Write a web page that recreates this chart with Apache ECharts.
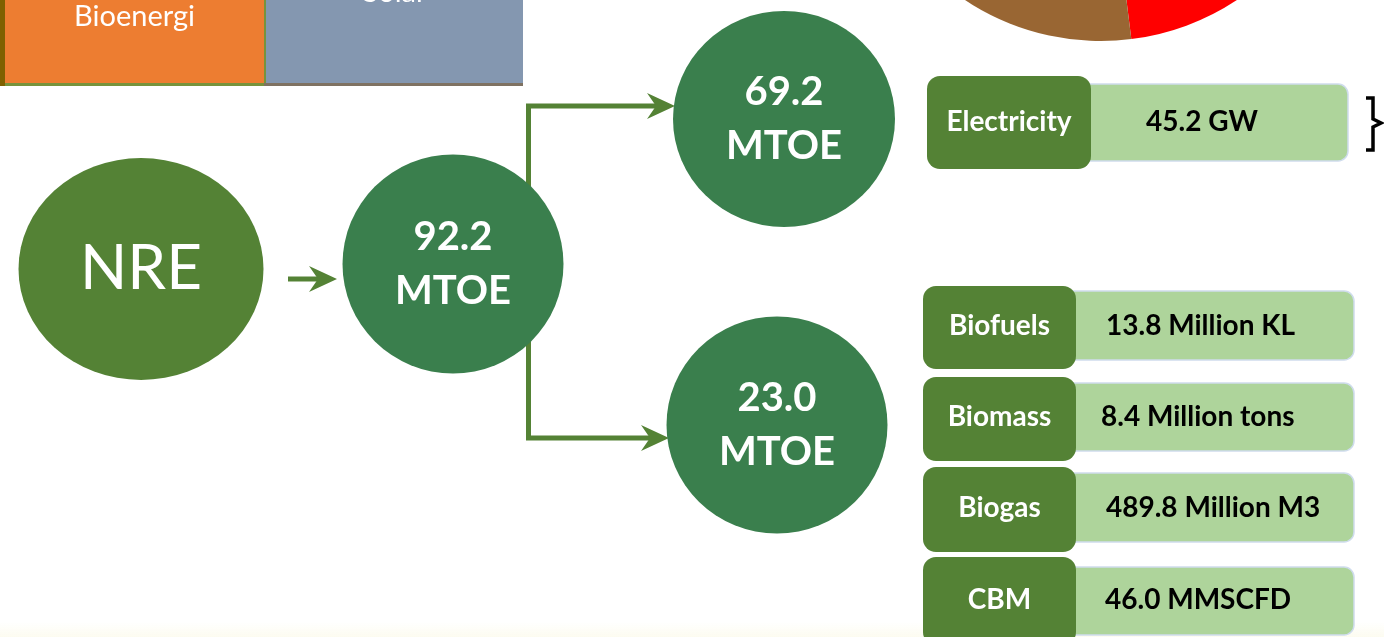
<!DOCTYPE html>
<html>
<head>
<meta charset="utf-8">
<style>
  html, body { margin: 0; padding: 0; background: #fff; }
  #main { width: 1384px; height: 637px; }
</style>
<script src="https://cdn.jsdelivr.net/npm/echarts@6/dist/echarts.min.js"></script>
</head>
<body>
<div id="main"></div>
<script>
// energy mix strip (top left) and pie (top right), both cut by the slide crop
const mixCategories = ['Bioenergi', 'Solar'];
const pieCategories = ['Segment 1', 'Segment 2', 'Segment 3', 'Segment 4'];
const pieValues = [14.7, 21.4, 34.5, 29.4];

// flow nodes
const nodeLabels = ['NRE', '92.2', '69.2', '23.0'];
const nodeUnit = 'MTOE';

// outputs
const electricCategories = ['Electricity'];
const electricValues = ['45.2 GW'];
const fuelCategories = ['Biofuels', 'Biomass', 'Biogas', 'CBM'];
const fuelValues = ['13.8 Million KL', '8.4 Million tons', '489.8 Million M3', '46.0 MMSCFD'];

// layout (pixel space of the slide)
const mixLayout = [
  {x0: 5, x1: 264, fill: '#ed7d31', edge: '#77933c', textY: 17},
  {x0: 266, x1: 523, fill: '#8497b0', edge: '#7f7262', textY: -7}
];
const nodeLayout = [
  {x: 141, y: 269, w: 245, h: 222, color: '#548235'},
  {x: 453, y: 264, w: 221, h: 219, color: '#3a7f4d'},
  {x: 784, y: 119, w: 222, h: 216, color: '#3a7f4d'},
  {x: 777, y: 425, w: 221, h: 217, color: '#3a7f4d'}
];
const rowLayout = [
  {dark: [927, 76, 1091, 169], light: [1070, 84, 1348, 161], textY: 122, valueX: 1202, align: 'center'},
  {dark: [923, 286, 1076, 369], light: [1060, 291, 1354, 360], textY: 326, valueX: 1106, align: 'left'},
  {dark: [923, 377, 1076, 461], light: [1060, 383, 1354, 451], textY: 417, valueX: 1101, align: 'left'},
  {dark: [923, 467, 1076, 552], light: [1060, 473, 1354, 542], textY: 508, valueX: 1106, align: 'left'},
  {dark: [923, 557, 1076, 645], light: [1060, 567, 1354, 635], textY: 600, valueX: 1105, align: 'left'}
];
const connectors = [
  {points: [[288, 279], [320, 279]], tip: [337, 279]},
  {points: [[528.5, 200], [528.5, 106], [657, 106]], tip: [675, 106]},
  {points: [[528.5, 330], [528.5, 438], [651, 438]], tip: [669, 438]}
];
const bracket = [[1366, 98], [1373, 98], [1373, 119], [1381, 123], [1373, 127], [1373, 150], [1366, 150]];

const FONT = 'Lato, "Open Sans", sans-serif';
const chart = echarts.init(document.getElementById('main'));

const rows = electricCategories.map((c, i) => ({cat: c, val: electricValues[i]}))
  .concat(fuelCategories.map((c, i) => ({cat: c, val: fuelValues[i]})));

function box(api, r, fill, radius, stroke) {
  const p0 = api.coord([r[0], r[1]]);
  const p1 = api.coord([r[2], r[3]]);
  return {
    type: 'rect',
    shape: {x: p0[0], y: p0[1], width: p1[0] - p0[0], height: p1[1] - p0[1], r: radius},
    style: {fill: fill, stroke: stroke || null, lineWidth: stroke ? 1.5 : 0}
  };
}

const option = {
  animation: false,
  grid: {left: 0, right: 0, top: 0, bottom: 0},
  xAxis: {type: 'value', min: 0, max: 1384, show: false},
  yAxis: {type: 'value', min: 0, max: 637, inverse: true, show: false},
  series: [
    {
      // faint cream band at the very bottom of the slide
      type: 'custom',
      silent: true,
      clip: false,
      data: [[0]],
      renderItem: (params, api) => {
        const p0 = api.coord([0, 622]);
        const p1 = api.coord([1384, 637]);
        return {
          type: 'rect',
          shape: {x: p0[0], y: p0[1], width: p1[0] - p0[0], height: p1[1] - p0[1]},
          style: {
            fill: new echarts.graphic.LinearGradient(0, 0, 0, 1, [
              {offset: 0, color: 'rgba(250,248,225,0)'},
              {offset: 1, color: 'rgba(250,248,225,0.5)'}
            ])
          }
        };
      }
    },
    {
      type: 'custom',
      silent: true,
      clip: false,
      data: mixCategories.map((c, i) => [i]),
      renderItem: (params, api) => {
        const i = params.dataIndex;
        const L = mixLayout[i];
        const children = [
          box(api, [L.x0, 0, L.x1, 84], L.fill, 0),
          box(api, [L.x0 - (i ? 2 : 0), 83, L.x1, 86], L.edge, 0)
        ];
        if (i === 0) {
          children.push(box(api, [0, 0, 5, 86], '#7f6000', 0));
          children.push(box(api, [264, 0, 266, 86], '#77933c', 0));
        }
        const c = api.coord([(L.x0 + L.x1) / 2, L.textY]);
        children.push({
          type: 'text',
          style: {
            x: c[0], y: c[1], text: mixCategories[i], fill: '#fff',
            font: '29px ' + FONT, align: 'center', verticalAlign: 'middle'
          }
        });
        return {type: 'group', children: children};
      }
    },
    {
      type: 'pie',
      silent: true,
      center: [1101, -205],
      radius: 246,
      startAngle: 330,
      clockwise: true,
      color: ['#ff0000', '#996633', '#ffc000', '#4472c4'],
      itemStyle: {borderWidth: 0},
      label: {show: false},
      labelLine: {show: false},
      data: pieCategories.map((n, i) => ({name: n, value: pieValues[i]}))
    },
    {
      type: 'custom',
      silent: true,
      clip: false,
      data: connectors.map((c, i) => [i]),
      renderItem: (params, api) => {
        const C = connectors[params.dataIndex];
        const pts = C.points.map(p => api.coord(p));
        const t = api.coord(C.tip);
        return {
          type: 'group',
          children: [
            {type: 'polyline', shape: {points: pts}, style: {stroke: '#548235', lineWidth: 5, fill: null}},
            {
              type: 'polygon',
              shape: {points: [t, [t[0] - 28, t[1] - 13], [t[0] - 19, t[1]], [t[0] - 28, t[1] + 13]]},
              style: {fill: '#548235'}
            }
          ]
        };
      }
    },
    {
      type: 'scatter',
      silent: true,
      symbol: 'circle',
      data: nodeLabels.map((n, i) => ({
        value: [nodeLayout[i].x, nodeLayout[i].y],
        symbolSize: [nodeLayout[i].w, nodeLayout[i].h],
        itemStyle: {color: nodeLayout[i].color, opacity: 1},
        label: i === 0
          ? {formatter: n, fontSize: 62, fontFamily: FONT, color: '#fff'}
          : {formatter: '{v|' + n + '}\n{v|' + nodeUnit + '}'}
      })),
      label: {
        show: true,
        position: 'inside',
        rich: {v: {fontSize: 40, fontWeight: 'bold', fontFamily: FONT, color: '#fff', lineHeight: 54}}
      }
    },
    {
      type: 'custom',
      silent: true,
      clip: false,
      data: rows.map((r, i) => [i]),
      renderItem: (params, api) => {
        const i = params.dataIndex;
        const L = rowLayout[i];
        const lc = api.coord([(L.dark[0] + L.dark[2]) / 2, L.textY]);
        const vc = api.coord([L.valueX, L.textY]);
        return {
          type: 'group',
          children: [
            box(api, L.light, '#aed49b', 10, '#cfdced'),
            box(api, L.dark, '#548235', 13),
            {
              type: 'text',
              style: {
                x: lc[0], y: lc[1], text: rows[i].cat, fill: '#fff',
                font: 'bold 28px ' + FONT, align: 'center', verticalAlign: 'middle'
              }
            },
            {
              type: 'text',
              style: {
                x: vc[0], y: vc[1], text: rows[i].val, fill: '#000',
                font: 'bold 28px ' + FONT, align: L.align, verticalAlign: 'middle'
              }
            }
          ]
        };
      }
    },
    {
      type: 'custom',
      silent: true,
      clip: false,
      data: [[0]],
      renderItem: (params, api) => ({
        type: 'polyline',
        shape: {points: bracket.map(p => api.coord(p))},
        style: {stroke: '#000', lineWidth: 3.5, fill: null, lineJoin: 'miter'}
      })
    }
  ]
};
chart.setOption(option);
</script>
</body>
</html>
